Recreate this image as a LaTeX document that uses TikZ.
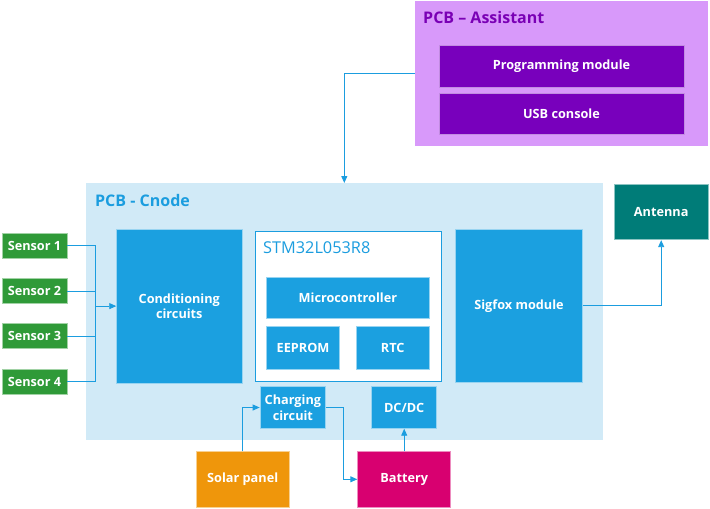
\documentclass[tikz,border=0pt]{standalone}
\usepackage{fontspec}
\setmainfont{Open Sans}
\usetikzlibrary{arrows.meta,positioning}
\definecolor{cnodebg}{HTML}{D1EAF7}
\definecolor{blk}{HTML}{1BA0E0}
\definecolor{sens}{HTML}{2F9A38}
\definecolor{solar}{HTML}{EF960B}
\definecolor{batt}{HTML}{D80070}
\definecolor{ant}{HTML}{007C78}
\definecolor{asbg}{HTML}{D899FA}
\definecolor{asmod}{HTML}{7800BC}
\definecolor{astitle}{HTML}{7A00B5}
\definecolor{wire}{HTML}{1B9DDF}
\tikzset{
  x=1pt,y=-1pt,
  box/.style={draw=white!55!#1,line width=0.8pt,fill=#1,text=white,font=\bfseries\fontsize{12.7}{15.5}\selectfont,align=center,inner sep=0pt},
  wireline/.style={draw=wire,line width=0.9pt},
  arr/.style={wireline,-{Triangle[length=7pt,width=6pt]}},
}
\begin{document}
\begin{tikzpicture}
\useasboundingbox (0,0) rectangle (710,509);
% PCB Assistant
\fill[asbg] (415,1) rectangle (708,145.5);
\node[anchor=west,text=astitle,font=\bfseries\fontsize{16}{18}\selectfont,inner sep=0pt] (astitle) at (423,17) {PCB – Assistant};
\node[box=asmod,minimum width=245pt,minimum height=41.5pt] (prog) at (561.5,66.5) {Programming module};
\node[box=asmod,minimum width=245pt,minimum height=41.5pt] (usb) at (561.5,114) {USB console};
\coordinate (asleft) at (415,73.3);
% Cnode
\fill[cnodebg] (86,183) rectangle (603,440);
\coordinate (cnodetop) at (344.3,183);
\node[anchor=west,text=wire,font=\bfseries\fontsize{16}{18}\selectfont,inner sep=0pt] (cntitle) at (95,200) {PCB - Cnode};
% sensors
\foreach \i/\y in {1/245.8,2/291,3/336.3,4/381.5}{
  \node[box=sens,minimum width=65pt,minimum height=25pt] (s\i) at (34.5,\y) {Sensor \i};
}
\node[box=blk,minimum width=125.3pt,minimum height=153.7pt] (cond) at (179.3,306.1) {Conditioning\\circuits};
% STM32
\node[draw=wire,line width=0.9pt,fill=white,minimum width=186pt,minimum height=150pt,inner sep=0pt] (stm) at (348,306.7) {};
\node[anchor=west,text=wire,font=\fontsize{16.3}{18}\selectfont,inner sep=0pt] (stmlabel) at (263,248) {STM32L053R8};
\node[box=blk,minimum width=162.3pt,minimum height=40.6pt] (mcu) at (347.9,298) {Microcontroller};
\node[box=blk,minimum width=72.6pt,minimum height=42.6pt] (eeprom) at (303,348) {EEPROM};
\node[box=blk,minimum width=72.7pt,minimum height=42.6pt] (rtc) at (392.7,348) {RTC};
% sigfox
\node[box=blk,minimum width=126.6pt,minimum height=153.7pt] (sig) at (519,305.9) {Sigfox module};
\node[box=ant,minimum width=93.7pt,minimum height=55.7pt] (ant) at (661.2,211.9) {Antenna};
% power
\node[box=blk,minimum width=65.7pt,minimum height=41.6pt] (chg) at (292.9,407.5) {Charging\\circuit};
\node[box=blk,minimum width=65pt,minimum height=41.6pt] (dcdc) at (404.2,407.5) {DC/DC};
\node[box=solar,minimum width=93.3pt,minimum height=55.3pt] (solar) at (242.7,479.3) {Solar panel};
\node[box=batt,minimum width=93pt,minimum height=55.3pt] (bat) at (404.2,479.3) {Battery};
% connectors
\draw[arr] (asleft) -| (cnodetop);
\coordinate (bus) at (95.7,306.1);
\foreach \i in {1,2,3,4}{ \draw[wireline] (s\i.east) -| (bus); }
\draw[arr] (bus) -- (cond.west);
\draw[arr] (sig.east) -| (ant.south);
\draw[arr] (solar.north) |- (chg.west);
\coordinate (cb) at (343.3,407.5);
\draw[arr] (chg.east) -- (cb) |- (bat.west);
\draw[arr] (bat.north) -- (dcdc.south);
\end{tikzpicture}
\end{document}
